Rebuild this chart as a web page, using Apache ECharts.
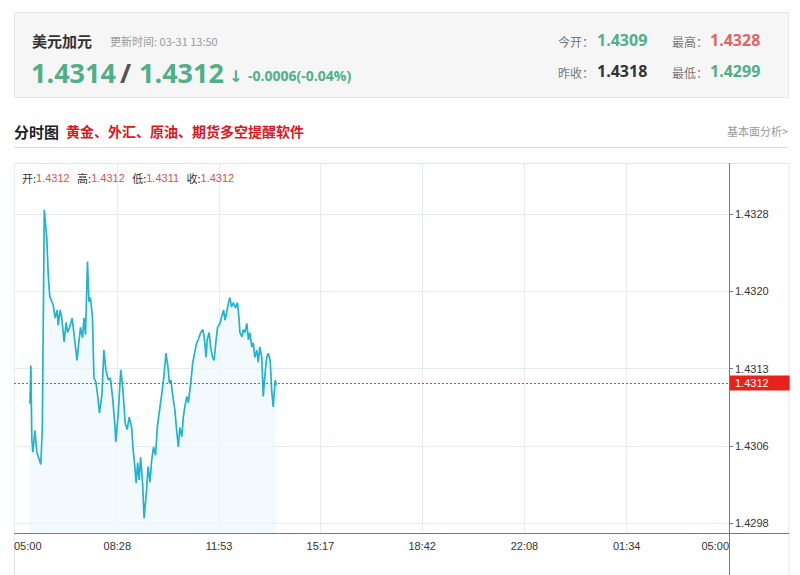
<!DOCTYPE html>
<html><head><meta charset="utf-8">
<script src="https://cdn.jsdelivr.net/npm/echarts@6/dist/echarts.min.js"></script>
<style>html,body{margin:0;padding:0;background:#fff}#c{width:800px;height:575px}</style>
</head><body><div id="c"></div>
<script>
// ---- data ----
const times = ['05:32','05:34','05:36','05:38','05:42','05:46','05:50','05:54','05:57','06:01','06:06','06:09','06:12','06:16','06:19','06:23','06:27','06:29','06:33','06:36','06:41','06:45','06:48','06:53','06:57','07:01','07:05','07:07','07:10','07:14','07:18','07:21','07:24','07:28','07:31','07:34','07:38','07:41','07:45','07:49','07:52','07:57','08:01','08:05','08:10','08:14','08:19','08:23','08:25','08:30','08:35','08:39','08:44','08:48','08:52','08:57','09:00','09:03','09:06','09:09','09:12','09:15','09:19','09:22','09:27','09:30','09:34','09:37','09:41','09:45','09:49','09:54','09:58','10:02','10:06','10:10','10:13','10:16','10:20','10:24','10:28','10:31','10:34','10:38','10:41','10:44','10:48','10:51','10:56','11:00','11:05','11:08','11:11','11:16','11:20','11:23','11:27','11:29','11:33','11:36','11:40','11:43','11:47','11:50','11:55','11:58','12:02','12:05','12:08','12:12','12:15','12:18','12:22','12:26','12:30','12:33','12:35','12:39','12:42','12:45','12:49','12:52','12:55','12:59','13:02','13:05','13:09','13:12','13:15','13:19','13:22','13:25','13:29','13:32','13:36','13:39','13:42','13:46','13:48'];
const prices = [1.43096,1.43133,1.43061,1.43049,1.43070,1.43049,1.43043,1.43037,1.43072,1.43284,1.43257,1.43221,1.43200,1.43195,1.43192,1.43179,1.43187,1.43172,1.43187,1.43180,1.43156,1.43175,1.43165,1.43172,1.43179,1.43163,1.43146,1.43138,1.43153,1.43170,1.43160,1.43179,1.43163,1.43234,1.43195,1.43199,1.43180,1.43121,1.43117,1.43102,1.43087,1.43104,1.43148,1.43129,1.43119,1.43121,1.43100,1.43077,1.43059,1.43087,1.43129,1.43112,1.43077,1.43071,1.43083,1.43073,1.43051,1.43037,1.43019,1.43039,1.43022,1.43044,1.43019,1.42985,1.43012,1.43035,1.43020,1.43040,1.43054,1.43046,1.43075,1.43093,1.43107,1.43123,1.43145,1.43132,1.43116,1.43119,1.43103,1.43090,1.43068,1.43054,1.43073,1.43064,1.43083,1.43093,1.43103,1.43097,1.43116,1.43136,1.43148,1.43155,1.43158,1.43165,1.43168,1.43161,1.43141,1.43158,1.43165,1.43151,1.43141,1.43138,1.43158,1.43170,1.43174,1.43180,1.43187,1.43177,1.43184,1.43194,1.43199,1.43190,1.43194,1.43189,1.43194,1.43180,1.43165,1.43161,1.43168,1.43165,1.43174,1.43158,1.43165,1.43151,1.43155,1.43141,1.43148,1.43136,1.43151,1.43141,1.43103,1.43122,1.43141,1.43145,1.43138,1.43109,1.43093,1.43119,1.43114];
const xTickMinutes = [0, 208, 413, 617, 822, 1028, 1234, 1440];
const xTickLabels = ['05:00','08:28','11:53','15:17','18:42','22:08','01:34','05:00'];
const yTickValues = [1.4298, 1.43055, 1.4313, 1.43205, 1.4328];
const yTickLabels = ['1.4298','1.4306','1.4313','1.4320','1.4328'];
const yMin = 1.429706, yMax = 1.433295;
const lastPrice = 1.43116;
const ohlcNames = ['开:','高:','低:','收:'];
const ohlcValues = ['1.4312','1.4312','1.4311','1.4312'];
const header = {name:'美元加元', update:'更新时间: 03-31 13:50', bid:'1.4314', ask:'1.4312', change:'-0.0006(-0.04%)',
  open:'1.4309', high:'1.4328', prevClose:'1.4318', low:'1.4299'};

// ---- build ----
const sessionStart = 5 * 60;
function toOffset(t){ const p = t.split(':'); return ((+p[0]) * 60 + (+p[1]) - sessionStart + 1440) % 1440; }
const seriesData = times.map((t, i) => [toOffset(t), prices[i]]);

const GREEN = '#4fb088', RED = '#e26464', CJK = '"Noto Sans CJK SC", sans-serif', NUM = '"Open Sans", "Noto Sans", sans-serif';
function txt(text, x, y, font, fill, align){ return {type:'text', x:x, y:y, silent:true, style:{text:text, font:font, fill:fill, align:align||'left', verticalAlign:'middle'}}; }

const ohlcRich = ohlcNames.map((n, i) => '{l|' + n + '}{v|' + ohlcValues[i] + '}').join('   ');

const chart = echarts.init(document.getElementById('c'), null, {renderer:'svg'});
chart.setOption({
  animation:false,
  backgroundColor:'#fff',
  grid:{left:14, right:71, top:163, bottom:42, containLabel:false},
  xAxis:{type:'value', min:0, max:1440,
    axisLine:{show:false, onZero:false},
    axisTick:{show:false, customValues:xTickMinutes},
    axisLabel:{customValues:xTickMinutes, formatter:v => xTickLabels[xTickMinutes.indexOf(v)],
      alignMinLabel:'left', alignMaxLabel:'right', color:'#333', fontSize:11, margin:7, fontFamily:'"Liberation Sans", sans-serif'},
    splitLine:{show:true, lineStyle:{color:'#e6edf1', width:1}}},
  yAxis:{type:'value', position:'right', min:yMin, max:yMax,
    axisLine:{show:false, onZero:false},
    axisTick:{show:true, customValues:yTickValues, length:4, lineStyle:{color:'#777'}},
    axisLabel:{customValues:yTickValues, color:'#333', fontSize:11, margin:6, fontFamily:'"Liberation Sans", sans-serif',
      formatter:v => { let bi = 0; yTickValues.forEach((t, i) => { if (Math.abs(t - v) < Math.abs(yTickValues[bi] - v)) bi = i; }); return yTickLabels[bi]; }},
    splitLine:{show:true, lineStyle:{color:'#e6edf1', width:1}}},
  series:[{type:'line', data:seriesData, symbol:'none', showSymbol:false,
    lineStyle:{color:'#22b3cf', width:1.7},
    areaStyle:{color:'#ecf8fc', origin:'start'},
    markLine:{symbol:'none', silent:true, animation:false, precision:5,
      data:[{yAxis:lastPrice}],
      lineStyle:{color:'#e8403f', type:[2,2], width:1, opacity:1},
      emphasis:{disabled:true},
      label:{position:'end', distance:0, formatter:lastPrice.toFixed(4), color:'#fff', backgroundColor:'#e8221b',
        padding:[2,21,2,6], fontSize:11, fontFamily:'"Liberation Sans", sans-serif'}}}],
  graphic:[
    // header panel
    {type:'rect', silent:true, shape:{x:14.5, y:12.5, width:774, height:85}, style:{fill:'#f6f6f6', stroke:'#e8e8e8'}},
    txt(header.name, 32, 40, 'bold 15px ' + CJK, '#333'),
    txt(header.update, 110, 41, '11px ' + CJK, '#9a9a9a'),
    txt(header.bid, 31, 72, 'bold 27px ' + NUM, GREEN),
    txt('/', 120, 72, 'bold 27px ' + NUM, '#555'),
    txt(header.ask, 139, 72, 'bold 27px ' + NUM, GREEN),
    txt('↓', 229, 76, 'bold 16px "DejaVu Sans", sans-serif', GREEN),
    txt(header.change, 248, 75, 'bold 14px ' + NUM, GREEN),
    txt('今开：', 558, 41, '12px ' + CJK, '#777'),
    txt(header.open, 597, 40, 'bold 16px ' + NUM, GREEN),
    txt('最高：', 672, 41, '12px ' + CJK, '#777'),
    txt(header.high, 710, 40, 'bold 16px ' + NUM, RED),
    txt('昨收：', 558, 72, '12px ' + CJK, '#777'),
    txt(header.prevClose, 597, 71, 'bold 16px ' + NUM, '#333'),
    txt('最低：', 672, 72, '12px ' + CJK, '#777'),
    txt(header.low, 710, 71, 'bold 16px ' + NUM, GREEN),
    // title row
    txt('分时图', 14, 131, 'bold 15px ' + CJK, '#222'),
    txt('黄金、外汇、原油、期货多空提醒软件', 66, 131, 'bold 14px ' + CJK, '#e0161b'),
    txt('基本面分析>', 788, 131, '11px ' + CJK, '#999', 'right'),
    {type:'line', silent:true, shape:{x1:14, y1:147.5, x2:788, y2:147.5}, style:{stroke:'#dcdcdc', lineWidth:1}},
    // chart frame
    {type:'rect', silent:true, z:-1, shape:{x:14.5, y:163.5, width:774.5, height:430}, style:{fill:'none', stroke:'#e3e3e3'}},
    {type:'line', silent:true, z:10, shape:{x1:729.5, y1:163, x2:729.5, y2:575}, style:{stroke:'#7a7a7a', lineWidth:1}},
    {type:'line', silent:true, z:10, shape:{x1:14, y1:533.5, x2:789, y2:533.5}, style:{stroke:'#7a7a7a', lineWidth:1}},
    // OHLC readout
    {type:'text', x:22, y:178, silent:true, z:10, style:{text:ohlcRich, verticalAlign:'middle', font:'11px ' + CJK,
      rich:{l:{fill:'#333', font:'11px ' + CJK}, v:{fill:'#e05050', font:'11px "Liberation Sans", sans-serif'}}}}
  ]
});
</script></body></html>
